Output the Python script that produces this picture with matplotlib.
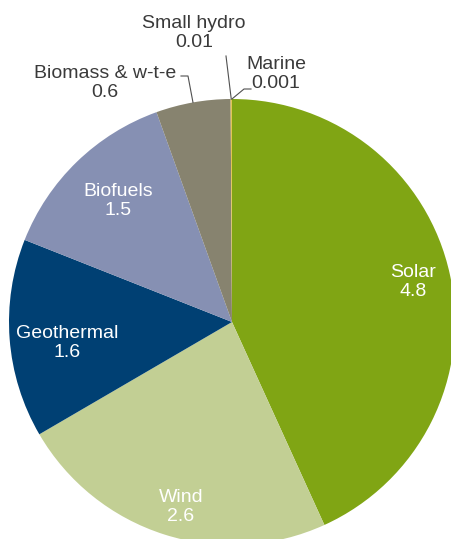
import numpy as np
import matplotlib.pyplot as plt

plt.rcParams['font.family'] = ['Liberation Sans', 'DejaVu Sans']

# capacity values, clockwise from the top
labels = ['Solar', 'Wind', 'Geothermal', 'Biofuels', 'Biomass & w-t-e', 'Small hydro', 'Marine']
values = [4.8, 2.6, 1.6, 1.5, 0.6, 0.01, 0.001]
value_text = ['4.8', '2.6', '1.6', '1.5', '0.6', '0.01', '0.001']
colors = ['#80a514', '#c2cf94', '#004073', '#8690b3', '#87836f', '#e2c243', '#c8b060']

W, H = 451, 539
fig = plt.figure(figsize=(W / 100, H / 100), dpi=100)
ax = fig.add_axes([0, 0, 1, 1])

cx, cy, r = 232, H - 322, 223
wedges, _ = ax.pie(values, colors=colors, startangle=90, counterclock=False,
                   center=(cx, cy), radius=r, frame=True,
                   wedgeprops=dict(linewidth=0))
ax.set_xlim(0, W)
ax.set_ylim(0, H)
ax.axis('off')

ls = 1.2

# inside labels (white)
inside = {0: (413, H - 282), 1: (181, H - 507), 2: (67, H - 343), 3: (118, H - 201)}
for i, (x, y) in inside.items():
    ax.text(x, y, labels[i] + '\n' + value_text[i], color='white', fontsize=14,
            ha='center', va='center', linespacing=ls)

tc = '#3a3a3a'


def edge_point(i):
    w = wedges[i]
    th = np.deg2rad((w.theta1 + w.theta2) / 2)
    return cx + r * np.cos(th), cy + r * np.sin(th)


# Biomass
ex, ey = edge_point(4)
ax.text(105, H - 83, labels[4] + '\n' + value_text[4], color=tc, fontsize=14,
        ha='center', va='center', linespacing=ls)
ax.plot([181, 188, ex], [H - 76, H - 76, ey], color='#505050', lw=0.8)

# Small hydro
ex, ey = edge_point(5)
ax.text(194, H - 33, labels[5] + '\n' + value_text[5], color=tc, fontsize=14,
        ha='center', va='center', linespacing=ls)
ax.plot([226, ex], [H - 56, ey], color='#505050', lw=0.8)

# Marine
ex, ey = edge_point(6)
ax.text(276, H - 74, labels[6] + '\n' + value_text[6], color=tc, fontsize=14,
        ha='center', va='center', linespacing=ls)
ax.plot([251, 244, ex], [H - 89, H - 89, ey], color='#505050', lw=0.8)

plt.savefig('out.png', dpi=100)
